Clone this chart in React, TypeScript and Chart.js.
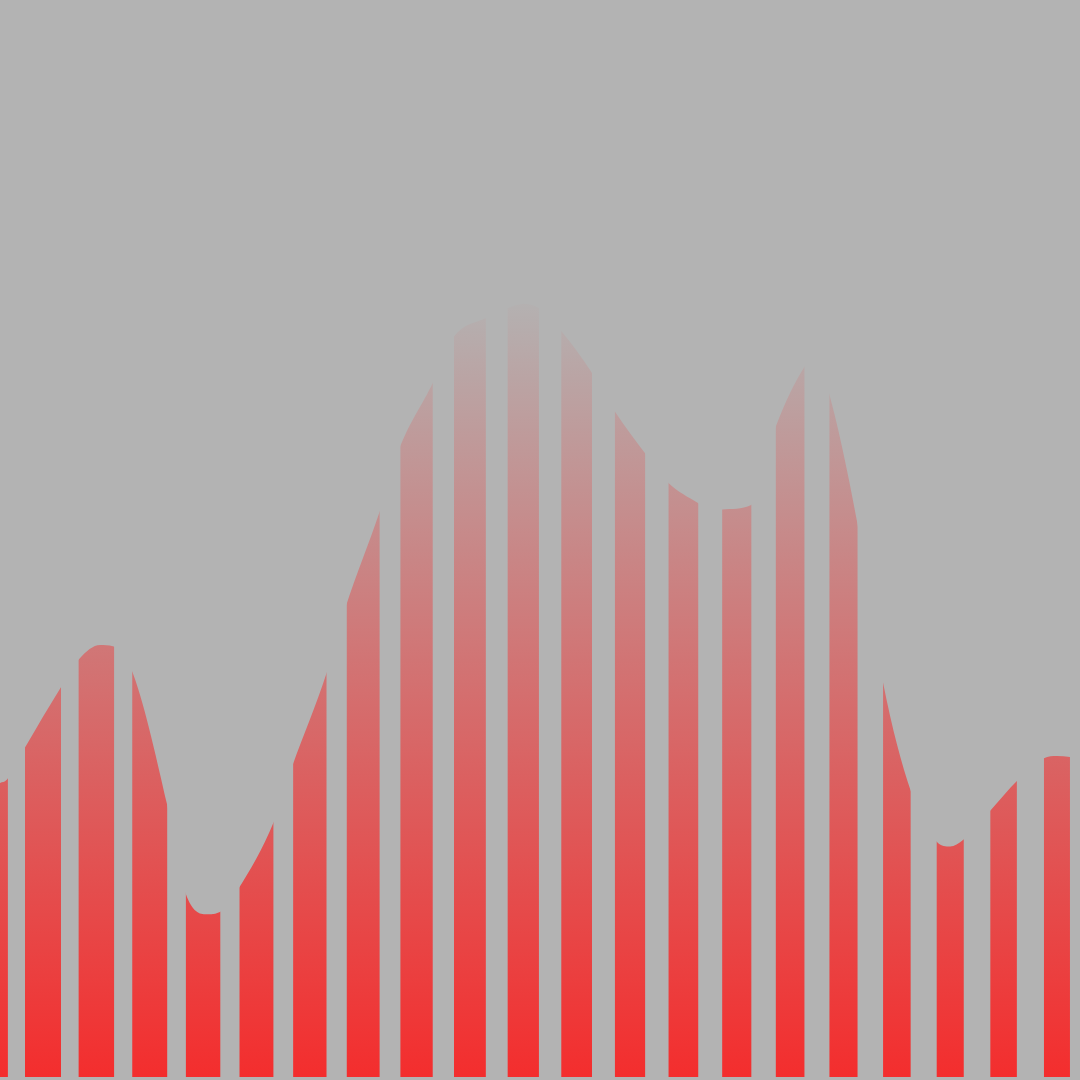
import React, { useEffect, useRef } from "react";
import { Chart, registerables } from "chart.js";

Chart.register(...registerables);

// Positions along the x axis, in strip-slot units (slot k starts at k)
const slotPositions = [
  0.53, 0.66, 1.0, 1.67, 2.01, 2.4, 2.64, 2.98, 3.65, 3.97, 4.36, 4.66, 4.97,
  5.64, 5.98, 6.63, 6.97, 7.62, 7.97, 8.61, 8.98, 9.6, 10.01, 10.29, 10.58,
  11.01, 11.57, 12.0, 12.58, 12.99, 13.55, 13.81, 14.0, 14.54, 15.0, 15.54,
  15.73, 15.97, 16.51, 17.0, 17.52, 18.01, 18.25, 18.49, 19.01, 19.5, 20.0,
  20.24, 20.49, 20.67,
];

// Curve heights (percent of chart height)
const curveValues = [
  27.3, 27.6, 30.6, 36.2, 38.8, 40.1, 40.0, 37.9, 25.3, 17.4, 15.1, 15.4, 17.4,
  23.7, 28.8, 37.6, 43.5, 52.6, 58.2, 64.5, 68.6, 70.5, 71.4, 71.8, 71.4,
  69.2, 65.4, 61.8, 57.8, 55.2, 53.3, 52.6, 52.7, 53.1, 60.4, 66.0, 67.0,
  63.9, 51.7, 36.6, 26.5, 21.8, 21.4, 22.0, 24.8, 27.5, 29.6, 29.8, 29.7,
  29.5,
];

const xRange = [0.534, 20.672];
const yRange = [0, 100];
const stripSlots = [0, 1, 2, 3, 4, 5, 6, 7, 8, 9, 10, 11, 12, 13, 14, 15, 16, 17, 18, 19, 20];

const BG = "#b3b3b3";

const backgroundPlugin = {
  id: "bgFill",
  beforeDraw(chart: any) {
    const { ctx, width, height } = chart;
    ctx.save();
    ctx.fillStyle = BG;
    ctx.fillRect(0, 0, width, height);
    ctx.restore();
  },
};

const stripePlugin = {
  id: "stripes",
  beforeDatasetsDraw(chart: any) {
    const { ctx, chartArea, scales } = chart;
    const xs = scales.x;
    ctx.save();
    ctx.beginPath();
    for (const k of stripSlots) {
      const left = xs.getPixelForValue(k);
      const frac = (left - chartArea.left) / (chartArea.right - chartArea.left);
      const w = 36.25 - 10.6 * frac;
      ctx.rect(left, chartArea.top, w, chartArea.bottom - chartArea.top);
    }
    ctx.clip();
  },
  afterDatasetsDraw(chart: any) {
    chart.ctx.restore();
  },
};

export default function App() {
  const canvasRef = useRef<HTMLCanvasElement | null>(null);

  useEffect(() => {
    document.body.style.margin = "0";
    document.body.style.background = BG;
    const canvas = canvasRef.current;
    if (!canvas) return;
    const chart = new Chart(canvas, {
      type: "line",
      data: {
        datasets: [
          {
            data: slotPositions.map((x, i) => ({ x, y: curveValues[i] })),
            fill: "start",
            borderWidth: 0,
            borderColor: "rgba(0,0,0,0)",
            pointRadius: 0,
            cubicInterpolationMode: "monotone",
            backgroundColor: (c: any) => {
              const ch = c.chart;
              const area = ch.chartArea;
              if (!area) return "rgba(255,20,20,0.5)";
              const topPx = ch.scales.y.getPixelForValue(73);
              const g = ch.ctx.createLinearGradient(0, area.bottom, 0, topPx);
              g.addColorStop(0, "rgba(255,22,22,0.85)");
              g.addColorStop(1, "rgba(255,22,22,0)");
              return g;
            },
          },
        ],
      },
      options: {
        responsive: false,
        maintainAspectRatio: false,
        animation: false,
        devicePixelRatio: 1,
        layout: { padding: { left: 0, right: 0, top: 0, bottom: 3 } },
        scales: {
          x: { type: "linear", min: xRange[0], max: xRange[1], display: false },
          y: { type: "linear", min: yRange[0], max: yRange[1], display: false },
        },
        plugins: {
          legend: { display: false },
          tooltip: { enabled: false },
          title: { display: false },
        },
      },
      plugins: [backgroundPlugin, stripePlugin],
    } as any);
    return () => chart.destroy();
  }, []);

  return (
    <div style={{ position: "absolute", left: 0, top: 0, width: 1080, height: 1080, background: BG }}>
      <canvas ref={canvasRef} width={1080} height={1080} style={{ display: "block", width: 1080, height: 1080 }} />
    </div>
  );
}
